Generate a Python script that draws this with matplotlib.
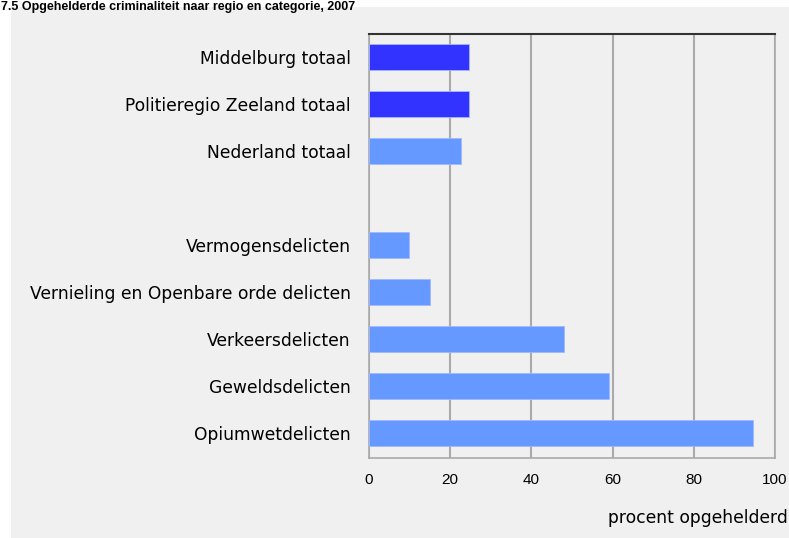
import numpy as np
import matplotlib.pyplot as plt
from matplotlib.patches import Rectangle

# data, blank row is the gap between regio and categorie
categorieen = ['Middelburg totaal', 'Politieregio Zeeland totaal', 'Nederland totaal', '',
               'Vermogensdelicten', 'Vernieling en Openbare orde delicten', 'Verkeersdelicten',
               'Geweldsdelicten', 'Opiumwetdelicten']
waarden = [24.7, 24.7, 22.6, np.nan, 9.8, 15.0, 48.0, 59.0, 94.5]
kleuren = ['#3333ff', '#3333ff', '#6699ff', '#6699ff', '#6699ff', '#6699ff', '#6699ff', '#6699ff', '#6699ff']
xticks = [0, 20, 40, 60, 80, 100]

fig = plt.figure(figsize=(7.89, 5.38), dpi=100)
fig.patch.set_facecolor('white')
fig.patches.append(Rectangle((11/789, 0), 1, 1 - 7/538, transform=fig.transFigure,
                             facecolor='#f0f0f0', edgecolor='none', zorder=-5))

ax = fig.add_axes([369/789, 1 - 458/538, 406/789, 424/538])
ax.set_facecolor('#f0f0f0')

y = np.arange(len(categorieen))
ax.barh(y, waarden, height=0.57, color=kleuren, edgecolor='#a0b8ff', linewidth=0.6, zorder=3)

ax.set_xlim(0, 100)
ax.set_ylim(8.53, -0.49)
ax.set_yticks(y)
ax.set_yticklabels(categorieen, fontsize=12.3)
ax.set_xticks(xticks)
ax.set_xticklabels([str(t) for t in xticks], fontsize=11, family='Liberation Sans')
ax.tick_params(axis='both', length=0)
ax.tick_params(axis='y', pad=13)
ax.tick_params(axis='x', pad=11)
ax.grid(axis='x', color='#aaaaaa', linewidth=1.5, zorder=1)

for s in ['left', 'right', 'bottom']:
    ax.spines[s].set_color('#aaaaaa')
    ax.spines[s].set_linewidth(1.2)
ax.spines['top'].set_color('#333333')
ax.spines['top'].set_linewidth(1.5)

fig.text(788/789, 1 - 518/538, 'procent opgehelderd', ha='right', va='center', fontsize=12.3)
fig.text(1/789, 1 - 1/538, '7.5 Opgehelderde criminaliteit naar regio en categorie, 2007',
         ha='left', va='top', fontsize=9, fontweight='bold', family='Liberation Sans')

plt.savefig('out.png', dpi=100, facecolor=fig.get_facecolor())
